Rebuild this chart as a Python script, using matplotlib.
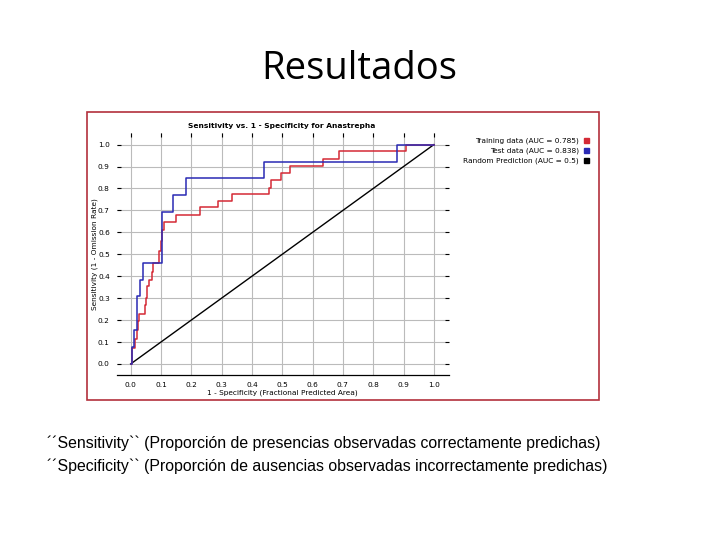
import matplotlib
matplotlib.use("Agg")
import matplotlib.pyplot as plt
from matplotlib.patches import Rectangle

# curva de entrenamiento (rojo), puntos donde sube la escalera
train_x = [0, 0.004, 0.014, 0.020, 0.025, 0.029, 0.047, 0.050, 0.054, 0.061, 0.069, 0.075,
           0.093, 0.100, 0.104, 0.111, 0.151, 0.228, 0.289, 0.335, 0.457, 0.464, 0.497,
           0.525, 0.634, 0.686, 0.907, 1.0]
train_y = [0, 0.074, 0.115, 0.157, 0.195, 0.229, 0.27, 0.30, 0.354, 0.385, 0.42, 0.46,
           0.514, 0.559, 0.612, 0.646, 0.681, 0.714, 0.745, 0.775, 0.802, 0.84, 0.871,
           0.901, 0.935, 0.97, 1.0, 1.0]
# curva de prueba (azul)
test_x = [0, 0.003, 0.012, 0.022, 0.031, 0.042, 0.103, 0.14, 0.182, 0.439, 0.879, 1.0]
test_y = [0, 0.077, 0.154, 0.308, 0.385, 0.462, 0.692, 0.769, 0.846, 0.923, 1.0, 1.0]
rand_x = [0, 1]
rand_y = [0, 1]
ticks = [0.0, 0.1, 0.2, 0.3, 0.4, 0.5, 0.6, 0.7, 0.8, 0.9, 1.0]
leyenda = ["Training data (AUC = 0.785)", "Test data (AUC = 0.838)",
           "Random Prediction (AUC = 0.5)"]
colores = ["#d42a36", "#2a2ab4", "black"]
nota1 = "\u00b4\u00b4Sensitivity`` (Proporción de presencias observadas correctamente predichas)"
nota2 = "\u00b4\u00b4Specificity`` (Proporción de ausencias observadas incorrectamente predichas)"

W, H = 720, 540
fig = plt.figure(figsize=(7.2, 5.4), dpi=100)

# titulo de la diapositiva
fig.text(359 / W, 1 - 69 / H, "Resultados", ha="center", va="center",
         fontsize=27.5, family="Open Sans")

# marco de la imagen
fig.add_artist(Rectangle((87 / W, 1 - 400 / H), (598.5 - 87) / W, (400 - 111.5) / H,
                         transform=fig.transFigure, fill=False,
                         edgecolor="#b3303c", linewidth=1.2))

ax = fig.add_axes([116.7 / W, 1 - 374.7 / H, (449 - 116.7) / W, (374.7 - 133) / H])
ax.set_xlim(-0.046, 1.05)
ax.set_ylim(-0.049, 1.053)
ax.plot(rand_x, rand_y, color="black", lw=1.0)
ax.plot(train_x, train_y, color=colores[0], lw=1.1, drawstyle="steps-post")
ax.plot(test_x, test_y, color=colores[1], lw=1.1, drawstyle="steps-post")
ax.set_xticks(ticks)
ax.set_yticks(ticks)
ax.set_xticklabels(["%.1f" % t for t in ticks])
ax.set_yticklabels(["%.1f" % t for t in ticks])
ax.grid(True, color="#bbbbbb", lw=0.8)
ax.set_axisbelow(True)
for s in ["top", "left", "right"]:
    ax.spines[s].set_visible(False)
ax.spines["bottom"].set_linewidth(0.9)
ax.tick_params(direction="in", length=3, width=0.8, top=True, right=True, bottom=False,
               labelsize=5.3, pad=5, colors="black")
ax.tick_params(axis="x", pad=5)
ax.set_xlabel("1 - Specificity (Fractional Predicted Area)", fontsize=5.3, labelpad=1)
ax.set_ylabel("Sensitivity (1 - Omission Rate)", fontsize=5.3, labelpad=0)
fig.text(282 / W, 1 - 126.3 / H, "Sensitivity vs. 1 - Specificity for Anastrepha",
         ha="center", va="center", fontsize=5.4, weight="bold")

# leyenda a la derecha
for i, (txt, c) in enumerate(zip(leyenda, colores)):
    yy = 1 - (140.3 + 10.2 * i) / H
    fig.text(579 / W, yy, txt, ha="right", va="center", fontsize=5.3)
    fig.add_artist(Rectangle((584 / W, yy - 2.5 / H), 5 / W, 5 / H,
                             transform=fig.transFigure, color=c))

fig.text(47 / W, 1 - 443 / H, nota1, ha="left", va="center", fontsize=11.4,
         family="Liberation Sans")
fig.text(47 / W, 1 - 466 / H, nota2, ha="left", va="center", fontsize=11.4,
         family="Liberation Sans")

fig.savefig("out.png", dpi=100)
